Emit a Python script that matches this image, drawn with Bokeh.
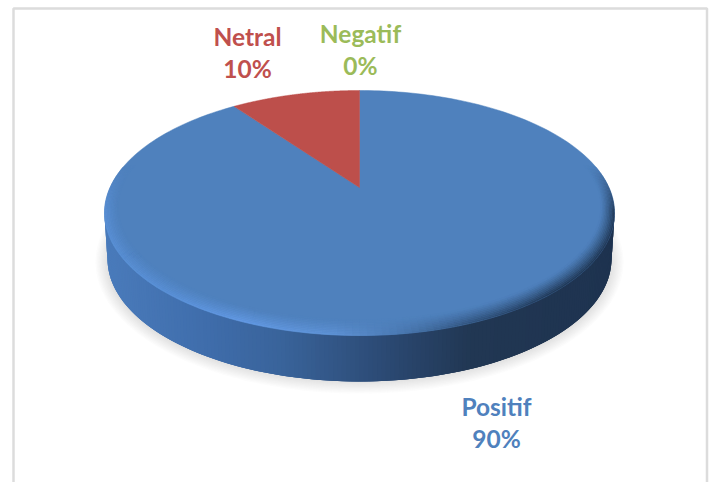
import numpy as np
from bokeh.plotting import figure
from bokeh.models import Range1d
from bokeh.core.properties import value
from bokeh.embed import file_html
from bokeh.resources import INLINE

categories = ["Positif", "Netral", "Negatif"]
shares = [90, 10, 0]
slice_colors = ["#4f81bd", "#bd4f4b", "#9bbb59"]
label_colors = ["#4f81bd", "#c0504d", "#9bbb59"]
label_x = [496, 247, 360]
label_y = [406, 36, 33]
line_gap = 32

CX, TOP, APEX, FRONT, RX, DEPTH = 359.0, 90.0, 187.0, 335.0, 255.0, 46.0
CY = (TOP + FRONT) / 2
RY = (FRONT - TOP) / 2
up, down = APEX - TOP, FRONT - APEX
k = (down - up) / (down + up)
b = up * (1 + k)
a = RX * np.sqrt(1 - k * k)


def project(theta):
    """Clockwise angle from 12 o'clock on the round pie -> page position (tilted view)."""
    u, v = np.sin(theta), np.cos(theta)
    w = 1 + k * v
    return CX + a * u / w, APEX - b * v / w


def hex2rgb(c):
    return np.array([int(c[i:i + 2], 16) for i in (1, 3, 5)], float)


def rgb2hex(c):
    return "#%02x%02x%02x" % tuple(int(round(x)) for x in c)


def ramp(t, stops):
    ts = [s[0] for s in stops]
    cs = np.array([hex2rgb(s[1]) for s in stops])
    return np.array([np.interp(t, ts, cs[:, i]) for i in range(3)])


p = figure(width=712, height=482, x_range=Range1d(0, 712), y_range=Range1d(482, 0),
           x_axis_type=None, y_axis_type=None, toolbar_location=None,
           output_backend="svg", min_border=0, outline_line_color=None,
           background_fill_color="white", border_fill_color="white")
p.grid.visible = False

# frame
p.line([13, 13, 706.5, 706.5], [482, 8, 8, 482], line_color="#dcdcdc", line_width=2.5)

# soft shadow under the disc
phi = np.linspace(0, 2 * np.pi, 181)
sx, sy = [], []
for g in np.linspace(13, 0, 11):
    sx.append(CX + (RX + g - 4) * np.cos(phi))
    sy.append(CY + DEPTH + 3 + (RY + g - 4) * np.sin(phi))
p.patches(sx, sy, fill_color="#8c8c8c", fill_alpha=0.026, line_color=None)

# side wall: overlapping strips so no seams show
wall_stops = [(0, "#4a7bbb"), (0.2, "#3f6dab"), (0.35, "#39639a"), (0.5, "#2f507d"),
              (0.6, "#28446a"), (0.72, "#213753"), (1, "#1e3350")]
edges = np.linspace(np.pi, 0, 181)
step = edges[0] - edges[1]
wx, wy, wc = [], [], []
for p0, p1 in zip(edges[:-1], edges[1:]):
    p2 = max(p1 - 2 * step, 0.0)
    xs = [CX + RX * np.cos(p0), CX + RX * np.cos(p2),
          CX + (RX - 3) * np.cos(p2), CX + (RX - 3) * np.cos(p0)]
    ys = [CY + RY * np.sin(p0), CY + RY * np.sin(p2),
          CY + DEPTH + RY * np.sin(p2), CY + DEPTH + RY * np.sin(p0)]
    wx.append(xs)
    wy.append(ys)
    wc.append(rgb2hex(ramp((np.cos((p0 + p1) / 2) + 1) / 2, wall_stops)))
p.patches(wx, wy, fill_color=wc, line_color=None)

# top face: one slice per category, angles from the shares
total = sum(shares)
start = 0.0
for share, col in zip(shares, slice_colors):
    if share > 0:
        th = np.linspace(start, start + 2 * np.pi * share / total, 240)
        x, y = project(th)
        p.patch(np.r_[CX, x], np.r_[APEX, y], fill_color=col, line_color=col, line_width=0.5)
    start += 2 * np.pi * share / total

# bevel round the visible rim
edge_stops = [(0, "#5a90d6"), (0.12, "#5a91d8"), (0.27, "#639ae6"), (0.45, "#5f93d6"),
              (0.58, "#4a78b0"), (0.72, "#2f5079"), (0.88, "#1f3653"), (1, "#203754")]
face = hex2rgb(slice_colors[0])
arc = np.linspace(np.radians(-22), np.radians(202), 133)
levels = np.linspace(0, 1, 11)
rx_, ry_, rc = [], [], []
for p0, p1 in zip(arc[:-1], arc[1:]):
    pm = (p0 + p1) / 2
    base = ramp((np.cos(pm) + 1) / 2, edge_stops)
    fade = np.clip((pm - np.radians(-22)) / np.radians(22), 0, 1) * np.clip((np.radians(202) - pm) / np.radians(22), 0, 1)
    for s0, s1 in zip(levels[:-1], levels[1:]):
        m = (s0 + s1) / 2
        col = face + (base - face) * fade * (1 - m) ** 1.2
        pts = []
        for ph, s in ((p0, s0), (p1, s0), (p1, s1), (p0, s1)):
            pts.append((CX + (RX - 14 * s) * np.cos(ph),
                        CY - 6 * s + (RY - 10 * s) * np.sin(ph)))
        rx_.append([q[0] for q in pts])
        ry_.append([q[1] for q in pts])
        rc.append(rgb2hex(col))
p.patches(rx_, ry_, fill_color=rc, line_color=rc, line_width=0.4)

# labels
for name, share, col, lx, ly in zip(categories, shares, label_colors, label_x, label_y):
    for txt, yy in ((name, ly), (f"{share}%", ly + line_gap)):
        p.text([lx], [yy], text=[txt], text_font=value("Lato"), text_font_style="bold",
               text_font_size="24.5px", text_color=col, text_align="center", text_baseline="middle")

open("out.html", "w").write(file_html(p, INLINE))
